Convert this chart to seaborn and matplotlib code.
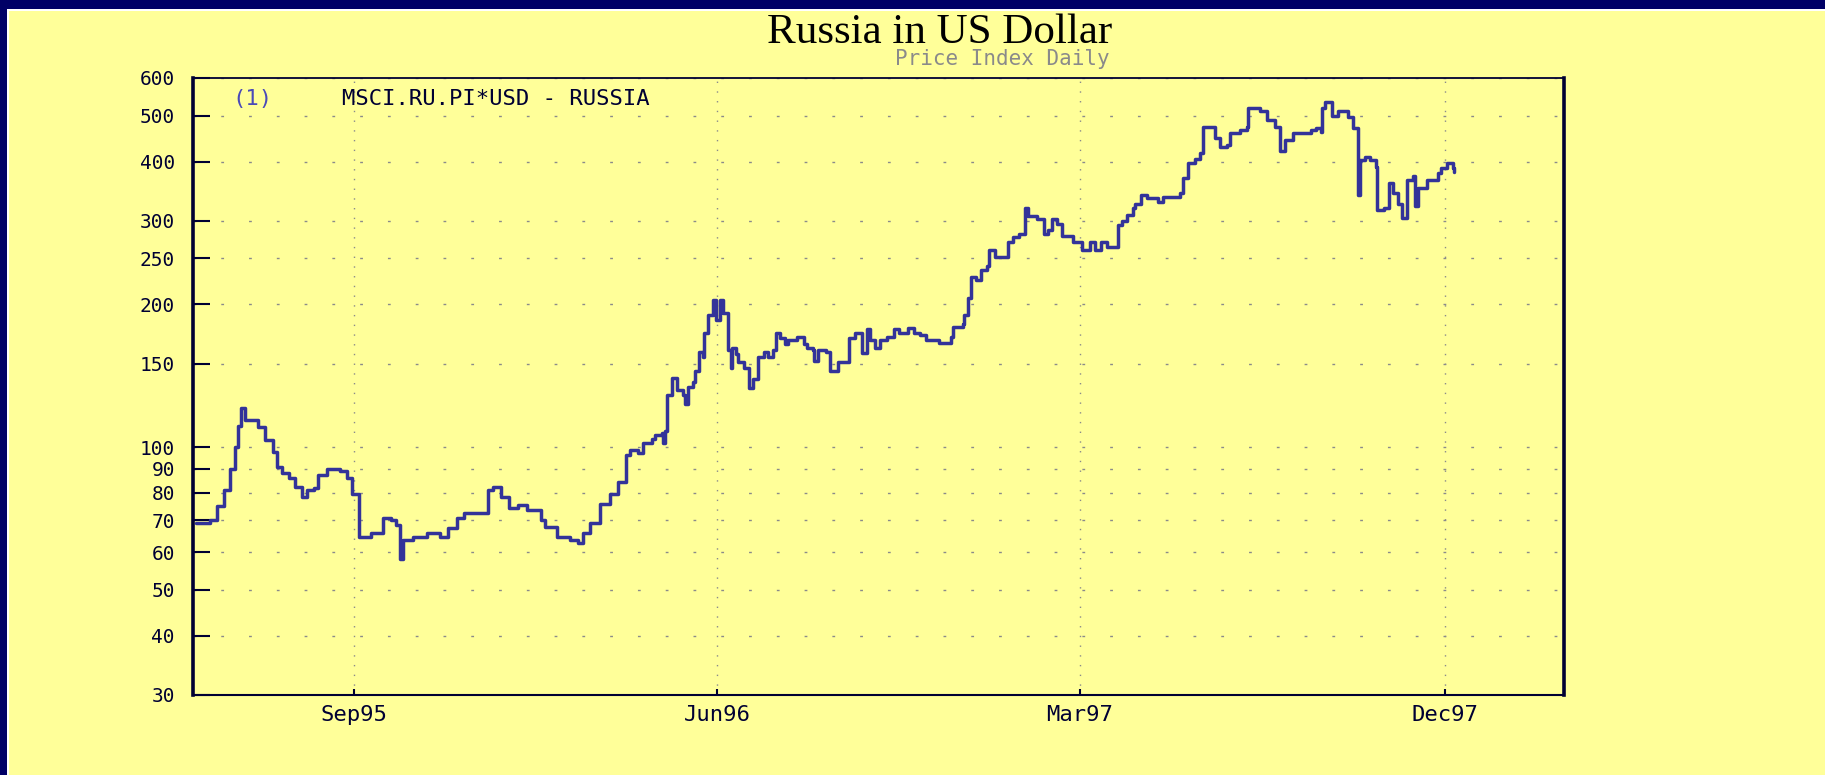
import pandas as pd
import numpy as np
import seaborn as sns
import matplotlib.pyplot as plt
from matplotlib.patches import Rectangle
from matplotlib.ticker import NullLocator

# MSCI Russia price index in USD (step changes)
dates = [
    "1995-05-05", "1995-05-16", "1995-05-21", "1995-05-26", "1995-05-31", "1995-06-04",
    "1995-06-06", "1995-06-08", "1995-06-11", "1995-06-21", "1995-06-26", "1995-07-02",
    "1995-07-05", "1995-07-09", "1995-07-14", "1995-07-19", "1995-07-24", "1995-07-28",
    "1995-08-02", "1995-08-05", "1995-08-12", "1995-08-22", "1995-08-27", "1995-08-31",
    "1995-09-05", "1995-09-14", "1995-09-21", "1995-09-23", "1995-09-29", "1995-10-03",
    "1995-10-06", "1995-10-08", "1995-10-16", "1995-10-26", "1995-11-05", "1995-11-11",
    "1995-11-18", "1995-11-23", "1995-12-11", "1995-12-15", "1995-12-21", "1995-12-27",
    "1996-01-03", "1996-01-10", "1996-01-20", "1996-01-23", "1996-02-01", "1996-02-11",
    "1996-02-17", "1996-02-21", "1996-02-26", "1996-03-05", "1996-03-12", "1996-03-18",
    "1996-03-24", "1996-03-27", "1996-04-02", "1996-04-06", "1996-04-13", "1996-04-15",
    "1996-04-20", "1996-04-21", "1996-04-23", "1996-04-24", "1996-04-28", "1996-05-02",
    "1996-05-06", "1996-05-08", "1996-05-10", "1996-05-14", "1996-05-15", "1996-05-18",
    "1996-05-21", "1996-05-22", "1996-05-25", "1996-05-29", "1996-05-31", "1996-06-03",
    "1996-06-05", "1996-06-09", "1996-06-11", "1996-06-12", "1996-06-15", "1996-06-17",
    "1996-06-21", "1996-06-25", "1996-06-28", "1996-07-02", "1996-07-06", "1996-07-09",
    "1996-07-13", "1996-07-15", "1996-07-18", "1996-07-22", "1996-07-24", "1996-07-31",
    "1996-08-05", "1996-08-08", "1996-08-12", "1996-08-13", "1996-08-16", "1996-08-22",
    "1996-08-25", "1996-08-31", "1996-09-08", "1996-09-13", "1996-09-18", "1996-09-22",
    "1996-09-24", "1996-09-28", "1996-10-02", "1996-10-07", "1996-10-12", "1996-10-16",
    "1996-10-23", "1996-10-27", "1996-11-01", "1996-11-05", "1996-11-15", "1996-11-24",
    "1996-11-26", "1996-12-03", "1996-12-04", "1996-12-07", "1996-12-09", "1996-12-13",
    "1996-12-17", "1996-12-21", "1996-12-23", "1996-12-27", "1997-01-06", "1997-01-10",
    "1997-01-14", "1997-01-19", "1997-01-21", "1997-01-28", "1997-02-02", "1997-02-05",
    "1997-02-08", "1997-02-12", "1997-02-16", "1997-02-24", "1997-02-28", "1997-03-03",
    "1997-03-09", "1997-03-13", "1997-03-17", "1997-03-22", "1997-03-30", "1997-04-02",
    "1997-04-06", "1997-04-10", "1997-04-12", "1997-04-16", "1997-04-21", "1997-04-29",
    "1997-05-03", "1997-05-16", "1997-05-18", "1997-05-22", "1997-05-27", "1997-05-31",
    "1997-06-02", "1997-06-11", "1997-06-15", "1997-06-20", "1997-06-22", "1997-06-30",
    "1997-07-05", "1997-07-06", "1997-07-15", "1997-07-20", "1997-07-26", "1997-07-30",
    "1997-08-03", "1997-08-09", "1997-08-22", "1997-08-26", "1997-08-30", "1997-08-31",
    "1997-09-02", "1997-09-07", "1997-09-12", "1997-09-19", "1997-09-23", "1997-09-27",
    "1997-09-28", "1997-10-02", "1997-10-06", "1997-10-10", "1997-10-11", "1997-10-16",
    "1997-10-20", "1997-10-23", "1997-10-27", "1997-10-30", "1997-11-03", "1997-11-07",
    "1997-11-09", "1997-11-11", "1997-11-18", "1997-11-26", "1997-11-28", "1997-12-03",
    "1997-12-07", "1997-12-08",
]
prices = [
    69, 70, 75, 81, 90, 100,
    111, 121, 114, 110, 103.5, 97.6,
    90.8, 88, 86, 82.4, 78.5, 81,
    82, 87.5, 90, 89, 86, 79.5,
    64.6, 65.9, 66, 70.9, 70, 68.5,
    58, 63.7, 64.6, 66, 64.6, 67.6,
    71, 72.5, 81, 82.4, 78.5, 74.5,
    75.5, 73.5, 70, 67.9, 64.6, 63.7,
    62.8, 66, 69, 76, 79.5, 84.5,
    96, 98.6, 97, 102, 104, 106,
    107, 102, 108, 129, 140, 132,
    129, 123, 134, 137, 145, 159,
    155, 174, 190, 204, 185, 204,
    192, 160, 147, 162, 157, 151,
    147, 133, 139, 155, 159, 155,
    160, 174, 170, 165, 168, 171,
    165, 162, 160, 152, 160, 159,
    145, 151, 170, 174, 158, 177,
    168, 162, 168, 171, 177, 174,
    178, 174, 172, 168, 166, 171,
    179, 182, 190, 206, 228, 225,
    236, 241, 260, 251, 271, 277,
    282, 319, 307, 302, 282, 287,
    302, 296, 279, 271, 270, 260,
    270, 260, 270, 264, 294, 299,
    309, 319, 326, 340, 335, 328,
    337, 343, 369, 397, 405, 417,
    473, 448, 429, 433, 459, 465,
    473, 519, 510, 490, 473, 421,
    444, 459, 465, 470, 462, 519,
    534, 500, 510, 496, 470, 340,
    403, 408, 403, 390, 316, 319,
    360, 343, 326, 304, 365, 372,
    322, 352, 365, 378, 387, 397,
    387, 380,
]

xtick_dates = ["1995-09-01", "1996-06-01", "1997-03-01", "1997-12-01"]
xtick_labels = ["Sep95", "Jun96", "Mar97", "Dec97"]
ytick_values = [30, 40, 50, 60, 70, 80, 90, 100, 150, 200, 250, 300, 400, 500, 600]

df = pd.DataFrame({"date": pd.to_datetime(dates), "price": prices})

sns.set_style("white")
plt.rcParams["font.family"] = ["DejaVu Sans Mono"]
plt.rcParams["lines.scale_dashes"] = False

W, H = 1825, 775
fig = plt.figure(figsize=(W / 100, H / 100), dpi=100)
fig.patch.set_facecolor("#000066")
fig.add_artist(Rectangle((7 / W, 0), 1, (H - 9) / H, transform=fig.transFigure,
                         facecolor="white", edgecolor="none", zorder=-2))
fig.add_artist(Rectangle((9 / W, 0), 1, (H - 11) / H, transform=fig.transFigure,
                         facecolor="#FFFF99", edgecolor="none", zorder=-1))

ax = fig.add_axes([193 / W, 80 / H, 1371 / W, 617 / H])
ax.set_facecolor("#FFFF99")

sns.lineplot(data=df, x="date", y="price", ax=ax, color="#333399",
             linewidth=2.5, drawstyle="steps-post")

ax.set_yscale("log")
ax.set_ylim(30, 600)
ax.set_yticks(ytick_values)
ax.set_yticklabels([str(v) for v in ytick_values])
ax.yaxis.set_minor_locator(NullLocator())

ax.set_xlim(pd.Timestamp("1995-05-03"), pd.Timestamp("1998-03-01"))
ax.set_xticks(pd.to_datetime(xtick_dates))
ax.set_xticklabels(xtick_labels)
ax.set_xlabel("")
ax.set_ylabel("")

# dotted grid
ax.yaxis.grid(True, color="#8a8a8a", linewidth=1, linestyle=(0, (2, 18)))
ax.xaxis.grid(True, color="#8a8a8a", linewidth=1, linestyle=(0, (1, 6)))

ax.tick_params(axis="y", direction="in", length=12, width=1.5, pad=13,
               labelsize=14, colors="#000033", left=True)
ax.tick_params(axis="x", direction="in", length=4, width=1.5, pad=7,
               labelsize=16, colors="#000033", bottom=True)

for side, lw in [("left", 2.6), ("bottom", 1.5), ("top", 1.3), ("right", 2.6)]:
    ax.spines[side].set_visible(True)
    ax.spines[side].set_linewidth(lw)
    ax.spines[side].set_color("#000033")

# series label inside the plot
ax.text(0.029, 0.966, "(1)", transform=ax.transAxes, color="#4a4ab8",
        fontsize=16, va="center", ha="left")
ax.text(0.109, 0.966, "MSCI.RU.PI*USD - RUSSIA", transform=ax.transAxes,
        color="#000033", fontsize=16, va="center", ha="left")

fig.text(940 / W, 1 - 33 / H, "Russia in US Dollar", family="Liberation Serif",
         fontsize=31, color="black", ha="center", va="center")
fig.text(1002 / W, 1 - 59 / H, "Price Index Daily", fontsize=15,
         color="#8a8a8a", ha="center", va="center")

fig.savefig("out.png", dpi=100, facecolor=fig.get_facecolor())
